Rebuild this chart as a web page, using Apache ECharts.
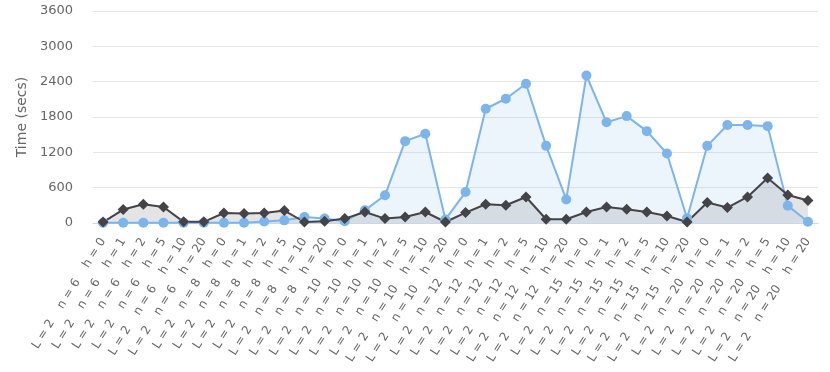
<!DOCTYPE html>
<html>
<head>
<meta charset="utf-8">
<script src="https://cdn.jsdelivr.net/npm/echarts@6/dist/echarts.min.js"></script>
<style>
	html,body{margin:0;padding:0;background:#fff;}
	#main{width:830px;height:372px;}
</style>
</head>
<body>
<div id="main"></div>
<script>
// 分组：n 与 h
var nList = [6, 8, 10, 12, 15, 20];
var hList = [0, 1, 2, 5, 10, 20];
var categories = [];
for (var a = 0; a < nList.length; a++) {
	for (var b = 0; b < hList.length; b++) {
		categories.push('L = 2    n = ' + nList[a] + '    h = ' + hList[b]);
	}
}

var yTicks = [0, 600, 1200, 1800, 2400, 3000, 3600];

// 蓝色系列（圆点）
var blueValues = [
	5, 5, 5, 5, 5, 5,
	5, 5, 25, 45, 100, 75,
	30, 215, 470, 1390, 1515, 60,
	525, 1940, 2110, 2365, 1310, 400,
	2505, 1710, 1815, 1560, 1180, 80,
	1310, 1665, 1665, 1645, 295, 20
];
// 深色系列（菱形）
var darkValues = [
	15, 228, 318, 272, 20, 20,
	170, 160, 170, 211, 17, 29,
	75, 187, 75, 102, 187, 17,
	177, 318, 301, 442, 63, 63,
	187, 272, 233, 187, 119, 17,
	347, 262, 442, 765, 476, 381
];

function init(){
	var chart = echarts.init(document.getElementById('main'), null, {renderer: 'canvas'});
	chart.setOption({
		animation: false,
		grid: {left: 93, right: 12, top: 11, bottom: 149, containLabel: false},
		xAxis: {
			type: 'category',
			data: categories,
			boundaryGap: true,
			axisLine: {lineStyle: {color: '#ccd6eb'}},
			axisTick: {show: false},
			axisLabel: {
				interval: 0,
				rotate: 58,
				margin: 16,
				color: '#666666',
				fontSize: 12,
				fontFamily: 'DejaVu Sans'
			}
		},
		yAxis: {
			type: 'value',
			min: 0,
			max: yTicks[yTicks.length - 1],
			interval: 600,
			name: 'Time (secs)',
			nameLocation: 'middle',
			nameGap: 51,
			nameTextStyle: {color: '#666666', fontSize: 14, fontFamily: 'DejaVu Sans'},
			axisLine: {show: false},
			axisTick: {show: false},
			splitLine: {lineStyle: {color: '#e6e6e6'}},
			axisLabel: {
				margin: 20,
				color: '#666666',
				fontSize: 13,
				fontFamily: 'DejaVu Sans',
				formatter: function(v){ return String(v); }
			}
		},
		series: [
			{
				type: 'line',
				data: blueValues,
				symbol: 'circle',
				symbolSize: 10,
				showAllSymbol: true,
				lineStyle: {color: '#7cb5ec', width: 2},
				itemStyle: {color: '#7cb5ec'},
				areaStyle: {color: 'rgba(124,181,236,0.2)'}
			},
			{
				type: 'line',
				data: darkValues,
				symbol: 'diamond',
				symbolSize: 11,
				showAllSymbol: true,
				lineStyle: {color: '#434348', width: 2},
				itemStyle: {color: '#434348'},
				areaStyle: {color: 'rgba(67,67,72,0.2)'}
			}
		]
	});
}

init();
</script>
</body>
</html>
